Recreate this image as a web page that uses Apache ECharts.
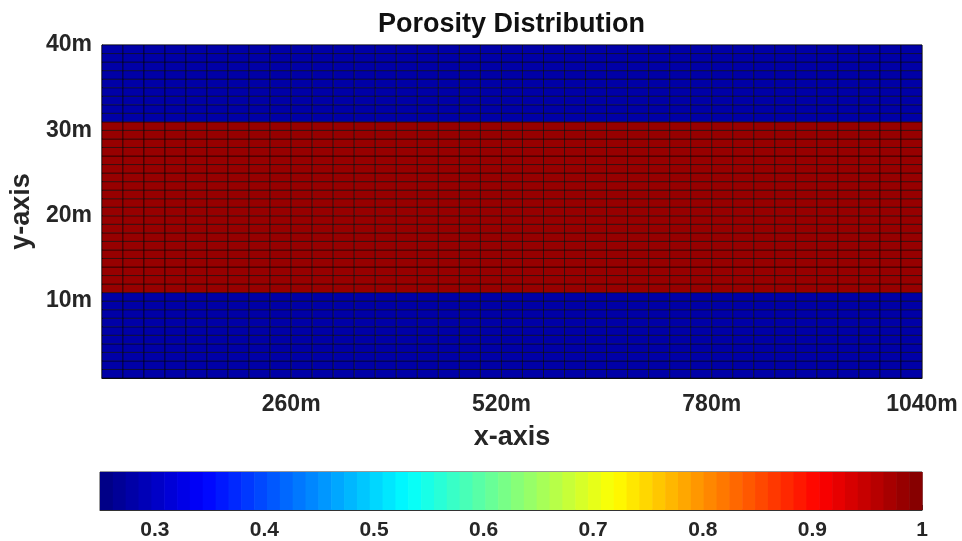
<!DOCTYPE html>
<html>
<head>
<meta charset="utf-8">
<script src="https://cdn.jsdelivr.net/npm/echarts@6/dist/echarts.min.js"></script>
<style>
  html, body { margin: 0; padding: 0; background: #fff; }
  #chart { width: 962px; height: 541px; }
</style>
</head>
<body>
<div id="chart"></div>
<script>
// Grid node coordinates (m); each cell spans two neighbouring nodes
const xNodes = [26, 52, 78, 104, 130, 156, 182, 208, 234, 260, 286, 312, 338, 364, 390, 416, 442, 468, 494, 520,
                546, 572, 598, 624, 650, 676, 702, 728, 754, 780, 806, 832, 858, 884, 910, 936, 962, 988, 1014, 1040];
const yNodes = [1, 2, 3, 4, 5, 6, 7, 8, 9, 10, 11, 12, 13, 14, 15, 16, 17, 18, 19, 20,
                21, 22, 23, 24, 25, 26, 27, 28, 29, 30, 31, 32, 33, 34, 35, 36, 37, 38, 39, 40];

// Porosity of each layer, bottom row first (layered model: same value along x)
const layerPorosity = [
  0.28, 0.28, 0.28, 0.28, 0.28, 0.28, 0.28, 0.28, 0.28, 0.28,
  0.98, 0.98, 0.98, 0.98, 0.98, 0.98, 0.98, 0.98, 0.98, 0.98,
  0.98, 0.98, 0.98, 0.98, 0.98, 0.98, 0.98, 0.98, 0.98, 0.98,
  0.28, 0.28, 0.28, 0.28, 0.28, 0.28, 0.28, 0.28, 0.28
];

// Axis tick labels
const xTicks = [260, 520, 780, 1040];
const yTicks = [10, 20, 30, 40];
const cbarTicks = [0.3, 0.4, 0.5, 0.6, 0.7, 0.8, 0.9, 1];
const cLimits = [0.25, 1];

// 64-level jet colormap
const NCOL = 64;
function jet(i) {
  const t = (i + 0.5) / NCOL * 4;
  const r = Math.min(Math.max(Math.min(t - 1.5, -t + 4.5), 0), 1);
  const g = Math.min(Math.max(Math.min(t - 0.5, -t + 3.5), 0), 1);
  const b = Math.min(Math.max(Math.min(t + 0.5, -t + 2.5), 0), 1);
  return 'rgb(' + Math.round(r * 255) + ',' + Math.round(g * 255) + ',' + Math.round(b * 255) + ')';
}
function colorOf(v) {
  let i = Math.floor((v - cLimits[0]) / (cLimits[1] - cLimits[0]) * NCOL);
  i = Math.min(Math.max(i, 0), NCOL - 1);
  return jet(i);
}

// Cells: [x0, x1, y0, y1, porosity]
const cells = [];
for (let r = 0; r < yNodes.length - 1; r++) {
  for (let c = 0; c < xNodes.length - 1; c++) {
    cells.push([xNodes[c], xNodes[c + 1], yNodes[r], yNodes[r + 1], layerPorosity[r]]);
  }
}

// Colour bar strips: [lo, hi, index]
const strips = [];
for (let i = 0; i < NCOL; i++) {
  const w = (cLimits[1] - cLimits[0]) / NCOL;
  strips.push([cLimits[0] + i * w, cLimits[0] + (i + 1) * w, i]);
}

const FONT = 'Liberation Sans, Arial, sans-serif';
const TXT = '#262626';

const chart = echarts.init(document.getElementById('chart'), null, { renderer: 'canvas' });
chart.setOption({
  animation: false,
  backgroundColor: '#fff',
  title: {
    text: 'Porosity Distribution',
    left: 373,
    top: 6,
    textStyle: { fontFamily: FONT, fontSize: 27, fontWeight: 'bold', color: '#111' }
  },
  grid: [
    { left: 100, right: 40, top: 45, height: 333, show: true, borderColor: '#333', borderWidth: 1, backgroundColor: 'transparent' },
    { left: 100, right: 40, top: 472, height: 39, show: true, borderColor: '#333', borderWidth: 1 }
  ],
  xAxis: [
    {
      gridIndex: 0, type: 'value', min: 26, max: 1040,
      name: 'x-axis', nameLocation: 'middle', nameGap: 46,
      nameTextStyle: { fontFamily: FONT, fontSize: 27, fontWeight: 'bold', color: TXT },
      axisLine: { show: true, lineStyle: { color: '#111', width: 1 } },
      axisTick: { show: false },
      splitLine: { show: false },
      axisLabel: {
        customValues: xTicks, margin: 15,
        formatter: v => v + 'm',
        fontFamily: FONT, fontSize: 23, fontWeight: 'bold', color: TXT
      }
    },
    {
      gridIndex: 1, type: 'value', min: cLimits[0], max: cLimits[1],
      axisLine: { show: true, lineStyle: { color: '#333', width: 1 } },
      axisTick: { show: true, inside: true, length: 5, customValues: cbarTicks, lineStyle: { color: '#333' } },
      splitLine: { show: false },
      axisLabel: {
        customValues: cbarTicks, margin: 10,
        formatter: v => String(+v.toFixed(1)),
        fontFamily: FONT, fontSize: 21, fontWeight: 'bold', color: TXT
      }
    }
  ],
  yAxis: [
    {
      gridIndex: 0, type: 'value', min: 1, max: 40,
      name: 'y-axis', nameLocation: 'middle', nameGap: 66, nameRotate: 90,
      nameTextStyle: { fontFamily: FONT, fontSize: 27, fontWeight: 'bold', color: TXT },
      axisLine: { show: true, lineStyle: { color: '#111', width: 1 } },
      axisTick: { show: false },
      splitLine: { show: false },
      axisLabel: {
        customValues: yTicks, margin: 10,
        formatter: v => v + 'm',
        fontFamily: FONT, fontSize: 23, fontWeight: 'bold', color: TXT
      }
    },
    {
      gridIndex: 1, type: 'value', min: 0, max: 1,
      axisLine: { show: false }, axisTick: { show: false },
      axisLabel: { show: false }, splitLine: { show: false }
    }
  ],
  series: [
    {
      type: 'custom',
      xAxisIndex: 0, yAxisIndex: 0,
      data: cells,
      encode: { x: [0, 1], y: [2, 3] },
      renderItem: function (params, api) {
        const p0 = api.coord([api.value(0), api.value(2)]);
        const p1 = api.coord([api.value(1), api.value(3)]);
        return {
          type: 'rect',
          shape: { x: p0[0], y: p1[1], width: p1[0] - p0[0], height: p0[1] - p1[1] },
          style: { fill: colorOf(api.value(4)), stroke: 'rgba(0,0,0,0.55)', lineWidth: 1 }
        };
      }
    },
    {
      type: 'custom',
      xAxisIndex: 1, yAxisIndex: 1,
      data: strips,
      encode: { x: [0, 1] },
      renderItem: function (params, api) {
        const p0 = api.coord([api.value(0), 0]);
        const p1 = api.coord([api.value(1), 1]);
        return {
          type: 'rect',
          shape: { x: p0[0], y: p1[1], width: p1[0] - p0[0] + 0.6, height: p0[1] - p1[1] },
          style: { fill: jet(api.value(2)) }
        };
      }
    }
  ]
});
</script>
</body>
</html>
